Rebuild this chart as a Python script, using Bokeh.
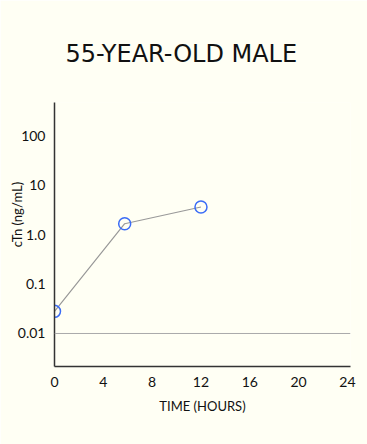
from bokeh.plotting import figure
from bokeh.models import Range1d, FixedTicker, Span
from bokeh.embed import file_html
from bokeh.resources import INLINE

# Data
time_hours = [0, 5.75, 12]
ctn_values = [0.028, 1.65, 3.6]
threshold = 0.01
x_ticks = [0, 4, 8, 12, 16, 20, 24]
y_ticks = [0.01, 0.1, 1, 10, 100]
y_tick_labels = ["0.01", "0.1", "1.0", "10", "100"]

BG = "#FFFFF4"
FONT = "Lato"

p = figure(width=367, height=444, output_backend="svg", toolbar_location=None,
           y_axis_type="log",
           x_range=Range1d(0, 24.25), y_range=Range1d(10 ** -2.667, 10 ** 2.667),
           min_border_left=54, min_border_right=17, min_border_top=102, min_border_bottom=78)

p.background_fill_color = BG
p.border_fill_color = BG
p.outline_line_color = None
p.grid.visible = False

p.title.text = "55-YEAR-OLD MALE"
p.title.align = "left"
p.title.offset = 11
p.title.text_font = "DejaVu Sans"
p.title.text_font_size = "24px"
p.title.text_font_style = "normal"
p.title.text_color = "#111111"
p.title.standoff = 70

# Axes
for ax in (p.xaxis, p.yaxis):
    ax.axis_line_color = "#333333"
    ax.axis_line_width = 1.5
    ax.major_tick_line_color = None
    ax.minor_tick_line_color = None
    ax.major_label_text_font = FONT
    ax.major_label_text_font_size = "14px"
    ax.major_label_text_color = "#111111"
    ax.axis_label_text_font = FONT
    ax.axis_label_text_font_style = "normal"
    ax.axis_label_text_color = "#111111"

p.xaxis.ticker = FixedTicker(ticks=x_ticks)
p.xaxis.major_label_standoff = 4
p.xaxis.axis_label = "TIME (HOURS)"
p.xaxis.axis_label_text_font_size = "13px"
p.xaxis.axis_label_standoff = 8

p.yaxis.ticker = FixedTicker(ticks=y_ticks, minor_ticks=[])
p.yaxis.major_label_overrides = {t: s for t, s in zip(y_ticks, y_tick_labels)}
p.yaxis.major_label_standoff = 3
p.yaxis.axis_label = "\u00a0" * 12 + "cTn (ng/mL)"
p.yaxis.axis_label_text_font_size = "13px"
p.yaxis.axis_label_standoff = -10

# Threshold line
p.add_layout(Span(location=threshold, dimension="width", line_color="#AAAAAA", line_width=1))

# Data
p.line(time_hours, ctn_values, line_color="#999999", line_width=1.2)
p.scatter(time_hours, ctn_values, size=12, marker="circle", fill_color=None,
          line_color="#3B6CF6", line_width=1.5)

open("out.html", "w").write(file_html(p, INLINE))
